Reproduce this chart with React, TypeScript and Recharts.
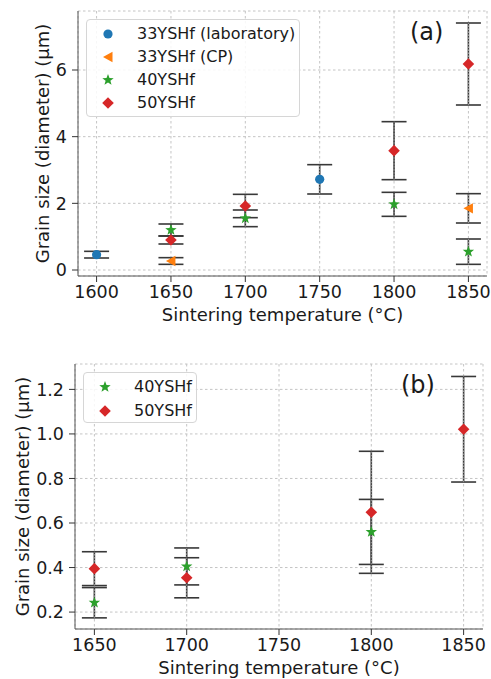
import React from 'react';
import { ScatterChart, Scatter, XAxis, YAxis, CartesianGrid, ErrorBar, Legend, Label } from 'recharts';

const FONT = '"DejaVu Sans", "Liberation Sans", sans-serif';
const TEXT = '#1a1a1a';
const BLUE = '#1f77b4';
const ORANGE = '#ff7f0e';
const GREEN = '#2ca02c';
const RED = '#d62728';

// ---------- panel (a) ----------
const tempTicksA = [1600, 1650, 1700, 1750, 1800, 1850];
const sizeTicksA = [0, 2, 4, 6];

const lab33Temp = [1600, 1750];
const lab33Size = [0.46, 2.72];
const lab33Err = [0.1, 0.44];

const cp33Temp = [1650, 1850];
const cp33Size = [0.27, 1.85];
const cp33Err = [0.1, 0.44];

const ys40Temp = [1650, 1700, 1800, 1850];
const ys40Size = [1.2, 1.55, 1.97, 0.55];
const ys40Err = [0.18, 0.25, 0.36, 0.38];

const ys50Temp = [1650, 1700, 1800, 1850];
const ys50Size = [0.9, 1.92, 3.58, 6.18];
const ys50Err = [0.12, 0.35, 0.87, 1.23];

const seriesNamesA = ['33YSHf (laboratory)', '33YSHf (CP)', '40YSHf', '50YSHf'];

// ---------- panel (b) ----------
const tempTicksB = [1650, 1700, 1750, 1800, 1850];
const sizeTicksB = [0.2, 0.4, 0.6, 0.8, 1.0, 1.2];

const ys40bTemp = [1650, 1700, 1800];
const ys40bSize = [0.242, 0.405, 0.56];
const ys40bErr = [0.068, 0.083, 0.146];

const ys50bTemp = [1650, 1700, 1800, 1850];
const ys50bSize = [0.395, 0.354, 0.648, 1.021];
const ys50bErr = [0.076, 0.09, 0.274, 0.237];

const seriesNamesB = ['40YSHf', '50YSHf'];

const toPoints = (t: number[], s: number[], e: number[]) =>
  t.map((temp, i) => ({ temp, size: s[i], err: e[i] }));

type Kind = 'circle' | 'triLeft' | 'star' | 'diamond';

function markerEl(kind: Kind, cx: number, cy: number, color: string, key?: string) {
  if (kind === 'circle') return <circle key={key} cx={cx} cy={cy} r={4.6} fill={color} />;
  if (kind === 'diamond') {
    const h = 5.8;
    return <path key={key} d={`M${cx},${cy - h}L${cx + h},${cy}L${cx},${cy + h}L${cx - h},${cy}Z`} fill={color} />;
  }
  if (kind === 'triLeft') {
    return <path key={key} d={`M${cx - 5},${cy}L${cx + 4.5},${cy - 5.2}L${cx + 4.5},${cy + 5.2}Z`} fill={color} />;
  }
  // star
  const R = 6, r = 2.5;
  let d = '';
  for (let i = 0; i < 10; i++) {
    const rad = i % 2 === 0 ? R : r;
    const a = -Math.PI / 2 + (i * Math.PI) / 5;
    d += `${i === 0 ? 'M' : 'L'}${cx + rad * Math.cos(a)},${cy + rad * Math.sin(a)}`;
  }
  return <path key={key} d={d + 'Z'} fill={color} />;
}

const makeShape = (kind: Kind, color: string) => (props: any) => {
  const { cx, cy } = props;
  if (cx == null || cy == null) return <g />;
  return markerEl(kind, cx, cy, color);
};
const noShape = () => <g />;

const tickStyle = { fill: TEXT, fontSize: 17.5, fontFamily: FONT };
const labelStyle = { fill: TEXT, fontSize: 18, fontFamily: FONT };
const FRAME = '#555555';

function ErrorBars() {
  return null;
}

function LegendBox({ items, width, height, rowTop, rowGap }: any) {
  return (
    <div
      style={{
        position: 'relative',
        width,
        height,
        background: 'rgba(255,255,255,0.85)',
        border: '1px solid #d6d6d6',
        borderRadius: 4,
        boxSizing: 'border-box',
        fontFamily: FONT,
        fontSize: 16,
        color: TEXT,
      }}
    >
      {items.map((it: any, i: number) => (
        <div
          key={it.name}
          style={{ position: 'absolute', left: 0, top: rowTop + rowGap * i - 12, height: 24, width: width - 2 }}
        >
          <svg width={24} height={24} style={{ position: 'absolute', left: 9, top: 0 }}>
            {markerEl(it.kind, 12, 12, it.color)}
          </svg>
          <span style={{ position: 'absolute', left: 50, top: 0, lineHeight: '24px', whiteSpace: 'nowrap' }}>
            {it.name}
          </span>
        </div>
      ))}
    </div>
  );
}

const kindsA: Kind[] = ['circle', 'triLeft', 'star', 'diamond'];
const colorsA = [BLUE, ORANGE, GREEN, RED];
const kindsB: Kind[] = ['star', 'diamond'];
const colorsB = [GREEN, RED];

function barChildren() {
  return [
    <ErrorBar key="s" dataKey="err" direction="y" width={12.5} stroke="#383838" strokeWidth={1.6} />,
    <ErrorBar key="d" dataKey="err" direction="y" width={0} stroke="#a8a8a8" strokeWidth={0.9} strokeDasharray="1.5 1.5" />,
  ];
}

function PanelA() {
  const data = [
    toPoints(lab33Temp, lab33Size, lab33Err),
    toPoints(cp33Temp, cp33Size, cp33Err),
    toPoints(ys40Temp, ys40Size, ys40Err),
    toPoints(ys50Temp, ys50Size, ys50Err),
  ];
  const items = seriesNamesA.map((name, i) => ({ name, kind: kindsA[i], color: colorsA[i] }));
  return (
    <div style={{ position: 'absolute', left: 0, top: 0, width: 491, height: 340 }}>
      <ScatterChart width={491} height={340} margin={{ top: 11, right: 4, bottom: 0, left: 0 }}>
        <CartesianGrid stroke="#c4c4c4" strokeDasharray="2.5 2.5" />
        <XAxis
          dataKey="temp"
          type="number"
          domain={[1587.5, 1862.5]}
          ticks={tempTicksA}
          interval={0}
          allowDataOverflow
          height={64}
          tickSize={6}
          tickMargin={4}
          tick={tickStyle}
          axisLine={{ stroke: FRAME }}
          tickLine={{ stroke: '#333' }}
        >
          <Label value="Sintering temperature (°C)" position="insideBottom" offset={19} style={labelStyle} />
        </XAxis>
        <YAxis
          dataKey="size"
          type="number"
          domain={[-0.18, 7.77]}
          ticks={sizeTicksA}
          interval={0}
          allowDataOverflow
          width={78}
          tickSize={6}
          tickMargin={5}
          tick={tickStyle}
          axisLine={{ stroke: FRAME }}
          tickLine={{ stroke: '#333' }}
        >
          <Label
            value="Grain size (diameter) (μm)"
            angle={-90}
            position="insideLeft"
            offset={43}
            style={{ ...labelStyle, textAnchor: 'middle' }}
          />
        </YAxis>
        <XAxis xAxisId="top" orientation="top" height={0} tick={false} tickLine={false} axisLine={{ stroke: FRAME }} />
        <YAxis yAxisId="right" orientation="right" width={0} tick={false} tickLine={false} axisLine={{ stroke: FRAME }} />
        {data.map((d, i) => (
          <Scatter key={'m' + i} name={seriesNamesA[i]} data={d} shape={makeShape(kindsA[i], colorsA[i])} isAnimationActive={false} />
        ))}
        {data.map((d, i) => (
          <Scatter key={'e' + i} data={d} shape={noShape} legendType="none" isAnimationActive={false}>
            {barChildren()}
          </Scatter>
        ))}
        <Legend
          layout="vertical"
          align="center"
          verticalAlign="middle"
          wrapperStyle={{ left: 86, top: 19, width: 214, height: 98 }}
          content={() => <LegendBox items={items} width={214} height={98} rowTop={14} rowGap={23} />}
        />
      </ScatterChart>
      <div style={{ position: 'absolute', left: 410, top: 17, fontFamily: FONT, fontSize: 24, lineHeight: '30px', color: TEXT }}>
        (a)
      </div>
    </div>
  );
}

function PanelB() {
  const data = [toPoints(ys40bTemp, ys40bSize, ys40bErr), toPoints(ys50bTemp, ys50bSize, ys50bErr)];
  const items = seriesNamesB.map((name, i) => ({ name, kind: kindsB[i], color: colorsB[i] }));
  return (
    <div style={{ position: 'absolute', left: 0, top: 340, width: 491, height: 339 }}>
      <ScatterChart width={491} height={339} margin={{ top: 24, right: 8, bottom: 0, left: 0 }}>
        <CartesianGrid stroke="#c4c4c4" strokeDasharray="2.5 2.5" />
        <XAxis
          dataKey="temp"
          type="number"
          domain={[1639.5, 1860.5]}
          ticks={tempTicksB}
          interval={0}
          allowDataOverflow
          height={50}
          tickSize={6}
          tickMargin={4}
          tick={tickStyle}
          axisLine={{ stroke: FRAME }}
          tickLine={{ stroke: '#333' }}
        >
          <Label value="Sintering temperature (°C)" position="insideBottom" offset={5} style={labelStyle} />
        </XAxis>
        <YAxis
          dataKey="size"
          type="number"
          domain={[0.124, 1.314]}
          ticks={sizeTicksB}
          interval={0}
          allowDataOverflow
          width={75}
          tickSize={6}
          tickMargin={5}
          tick={tickStyle}
          tickFormatter={(v: number) => v.toFixed(1)}
          axisLine={{ stroke: FRAME }}
          tickLine={{ stroke: '#333' }}
        >
          <Label
            value="Grain size (diameter) (μm)"
            angle={-90}
            position="insideLeft"
            offset={23}
            style={{ ...labelStyle, textAnchor: 'middle' }}
          />
        </YAxis>
        <XAxis xAxisId="top" orientation="top" height={0} tick={false} tickLine={false} axisLine={{ stroke: FRAME }} />
        <YAxis yAxisId="right" orientation="right" width={0} tick={false} tickLine={false} axisLine={{ stroke: FRAME }} />
        {data.map((d, i) => (
          <Scatter key={'m' + i} name={seriesNamesB[i]} data={d} shape={makeShape(kindsB[i], colorsB[i])} isAnimationActive={false} />
        ))}
        {data.map((d, i) => (
          <Scatter key={'e' + i} data={d} shape={noShape} legendType="none" isAnimationActive={false}>
            {barChildren()}
          </Scatter>
        ))}
        <Legend
          layout="vertical"
          align="center"
          verticalAlign="middle"
          wrapperStyle={{ left: 83, top: 32, width: 114, height: 51 }}
          content={() => <LegendBox items={items} width={114} height={51} rowTop={14} rowGap={24} />}
        />
      </ScatterChart>
      <div style={{ position: 'absolute', left: 401, top: 30, fontFamily: FONT, fontSize: 24, lineHeight: '30px', color: TEXT }}>
        (b)
      </div>
    </div>
  );
}

export default function App() {
  return (
    <div style={{ position: 'absolute', left: 0, top: 0, width: 491, height: 679, background: '#fff', overflow: 'hidden' }}>
      <PanelA />
      <PanelB />
    </div>
  );
}
